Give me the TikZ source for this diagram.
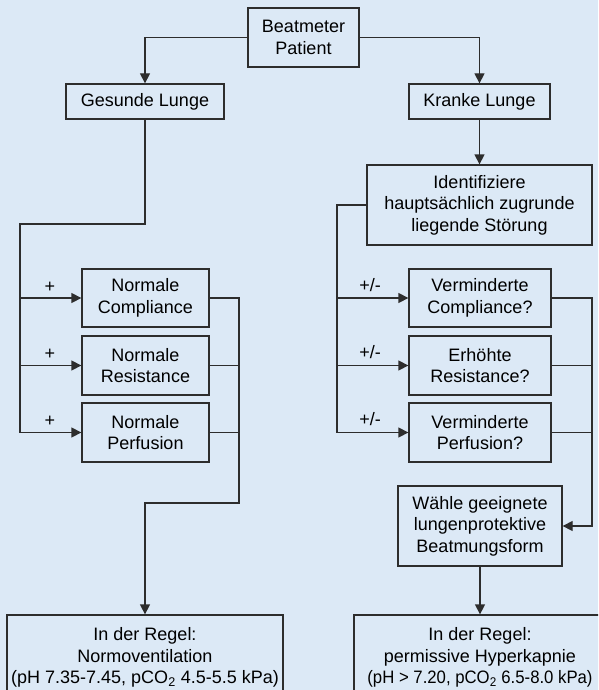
\documentclass[tikz,border=0pt]{standalone}
\usepackage{graphicx}
\usepackage{fontspec}
\setmainfont{Liberation Sans}
\usetikzlibrary{arrows.meta}
\definecolor{bgblue}{RGB}{220,233,246}
\definecolor{linegray}{RGB}{45,45,45}
\tikzset{
  box/.style={draw=linegray, line width=1.3pt, fill=bgblue, rectangle, inner sep=0pt,
    align=center, font=\fontsize{18pt}{21.5pt}\selectfont, text=black},
  conn/.style={draw=linegray, line width=1.3pt},
  arr/.style={conn, -{Triangle[length=10pt,width=10pt]}},
  lbl/.style={font=\fontsize{18pt}{21.5pt}\selectfont, inner sep=0pt, text=black}
}
\begin{document}
\begin{tikzpicture}[x=1pt,y=-1pt]
\useasboundingbox (0,0) rectangle (598,690);
\fill[bgblue] (0,0) rectangle (598,690);
\clip (0,0) rectangle (598,690);

\node[box, minimum width=111pt, minimum height=59pt] (bp) at (303.5,37.5) {Beatmeter\\Patient};
\node[box, minimum width=158pt, minimum height=35pt] (gl) at (145,101.5) {Gesunde Lunge};
\node[box, minimum width=141pt, minimum height=35pt] (kl) at (479.5,101.5) {Kranke Lunge};
\node[box, minimum width=225pt, minimum height=80pt] (id) at (479.5,205) {Identifiziere\\hauptsächlich zugrunde\\liegende Störung};

\node[box, minimum width=127pt, minimum height=58pt] (nc) at (145.5,298) {Normale\\Compliance};
\node[box, minimum width=127pt, minimum height=59pt] (nr) at (145.5,365.5) {Normale\\Resistance};
\node[box, minimum width=127pt, minimum height=59pt] (np) at (145.5,432.5) {Normale\\Perfusion};

\node[box, minimum width=142pt, minimum height=58pt] (vc) at (480,298) {Verminderte\\Compliance?};
\node[box, minimum width=142pt, minimum height=59pt] (er) at (480,365.5) {Erhöhte\\Resistance?};
\node[box, minimum width=142pt, minimum height=59pt] (vp) at (480,432.5) {Verminderte\\Perfusion?};

\node[box, minimum width=164pt, minimum height=80pt] (wg) at (480,526) {Wähle geeignete\\lungenprotektive\\Beatmungsform};

\node[box, minimum width=276pt, minimum height=85pt] (bl) at (145,657.5) {In der Regel:\\Normoventilation\\(pH 7.35-7.45, pCO\textsubscript{2} 4.5-5.5 kPa)};
\node[box, minimum width=252pt, minimum height=85pt] (br) at (480,657.5) {In der Regel:\\permissive Hyperkapnie\\\scalebox{0.93}[1]{(pH > 7.20, pCO\textsubscript{2} 6.5-8.0 kPa)}};

% junction coordinates
\coordinate (lt) at (20,224);
\coordinate (lb) at (20,432.5);
\coordinate (jl) at (239,503);
\coordinate (rt) at (337,205);
\coordinate (rb) at (337,432.5);
\coordinate (jr) at (592,526);

% top
\draw[arr] (bp.west) -| (gl.north);
\draw[arr] (bp.east) -| (kl.north);
\draw[arr] (kl.south) -- (id.north);

% left branch
\draw[conn] (gl.south) |- (lt) -- (lb);
\draw[arr] (lt |- nc.west) -- (nc.west);
\draw[arr] (lt |- nr.west) -- (nr.west);
\draw[arr] (lb) -- (np.west);
\draw[arr] (nc.east) -| (jl) -| (bl.north);
\draw[conn] (nr.east) -- (nr.east -| jl);
\draw[conn] (np.east) -- (np.east -| jl);

% right branch
\draw[conn] (id.west) -| (rb);
\draw[arr] (rt |- vc.west) -- (vc.west);
\draw[arr] (rt |- er.west) -- (er.west);
\draw[arr] (rb) -- (vp.west);
\draw[arr] (vc.east) -| (jr) -- (wg.east);
\draw[conn] (er.east) -- (er.east -| jr);
\draw[conn] (vp.east) -- (vp.east -| jr);
\draw[arr] (wg.south) -- (br.north);

% labels
\node[lbl] (p1) at (50,287) {+};
\node[lbl] (p2) at (50,354.5) {+};
\node[lbl] (p3) at (50,421.5) {+};
\node[lbl] (q1) at (370,285) {+/-};
\node[lbl] (q2) at (370,352.5) {+/-};
\node[lbl] (q3) at (370,419.5) {+/-};
\end{tikzpicture}
\end{document}
